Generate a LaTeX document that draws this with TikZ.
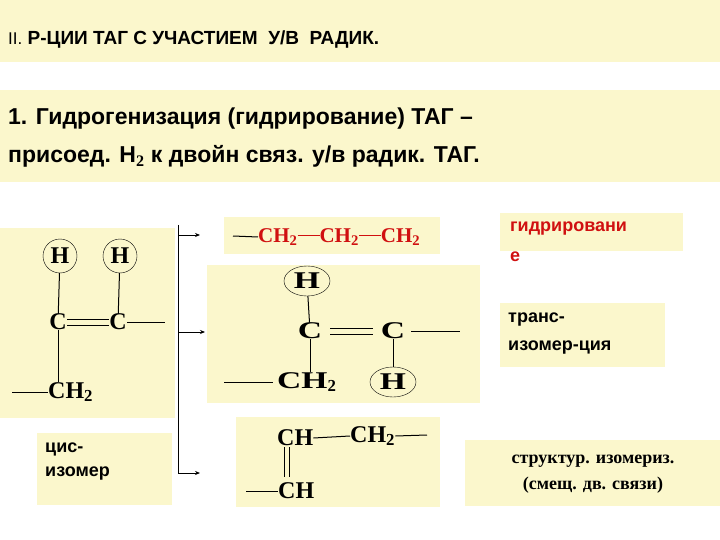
\documentclass[tikz,border=0pt]{standalone}
\usepackage{fontspec}
\usepackage{graphicx}
\setmainfont{Liberation Serif}
\setsansfont{Liberation Sans}
\usetikzlibrary{arrows.meta,shapes.geometric}
\definecolor{bg}{HTML}{FBF7CC}
\definecolor{rd}{HTML}{D01010}
\tikzset{
 box/.style={fill=bg,draw=none},
 sanst/.style={font=\sffamily\bfseries\fontsize{18}{24}\selectfont,inner sep=0pt},
 chem/.style={font=\bfseries\fontsize{24}{26}\selectfont,inner sep=0pt},
 chems/.style={font=\bfseries\fontsize{21}{24}\selectfont,inner sep=0pt},
 bond/.style={line width=1pt},
 arr/.style={-{Stealth[length=5pt,width=4pt]},line width=0.8pt}
}
\begin{document}
\begin{tikzpicture}[x=1pt,y=-1pt]
\useasboundingbox (0,0) rectangle (720,540);
\fill[white] (0,0) rectangle (720,540);
% title
\fill[box] (0,0) rectangle (720,62);
\node[anchor=west,inner sep=0pt,font=\sffamily\bfseries\fontsize{19}{22}\selectfont] (title) at (8,40) {{\mdseries\fontsize{17}{20}\selectfont II.} Р-ЦИИ ТАГ С УЧАСТИЕМ \ У/В \ РАДИК.};
\fill[box] (0,90) rectangle (720,182);
\node[anchor=west,inner sep=0pt,align=left,font=\sffamily\bfseries\fontsize{23}{38}\selectfont] (sub) at (8,138) {1. Гидрогенизация (гидрирование) ТАГ –\\присоед. Н$_{\mathbf 2}$ к двойн связ. у/в радик. ТАГ.};
% left box
\fill[box] (0,228) rectangle (175,418);
\node[chem,draw,circle,minimum size=34pt] (h1) at (60,256) {H};
\node[chem,draw,circle,minimum size=34pt] (h2) at (120,256) {H};
\node[chem] (c1) at (58,322) {C};
\node[chem] (c2) at (118,322) {C};
\node[chem,anchor=west] (ch2) at (48,392) {CH$_{\mathbf 2}$};
\coordinate (r1) at (165,322);
\coordinate (l1) at (12,392);
\draw[bond] (h1) -- (c1); \draw[bond] (h2) -- (c2);
\draw[bond] ([yshift=-3]c1.east) -- ([yshift=-3]c2.west);
\draw[bond] ([yshift=3]c1.east) -- ([yshift=3]c2.west);
\draw[bond] (c2.east) -- (r1);
\draw[bond] (c1) -- (c1|-ch2.north);
\draw[bond] (l1) -- (ch2.west);
% cis box
\fill[box] (37,433) rectangle (172,505);
\node[sanst,anchor=north west,align=left] (cis) at (45,443) {цис-\\изомер};
% bracket
\coordinate (b0) at (178,225); \coordinate (b1) at (178,473);
\draw[line width=0.8pt] (b0) -- (b1);
\draw[arr] (178,235) -- (200,235);
% red box
\fill[box] (224,217) rectangle (440,254);
\node[chems,text=rd,anchor=west] (red) at (258,237) {CH$_{\mathbf 2}$\rule[0.3em]{22pt}{1pt}CH$_{\mathbf 2}$\rule[0.3em]{22pt}{1pt}CH$_{\mathbf 2}$};
\coordinate (rl) at (233,236);
\draw[line width=1pt] (rl) -- (red.west);
% trans box
\fill[box] (207,265) rectangle (480,403);
\node[chem,draw,ellipse,minimum width=46pt,minimum height=30pt] (th) at (307,281) {\scalebox{1.4}[1]{H}};
\node[chem] (tc1) at (310,331) {\scalebox{1.4}[1]{C}};
\node[chem] (tc2) at (393,331) {\scalebox{1.4}[1]{C}};
\node[chem,anchor=west] (tch2) at (277,382) {\scalebox{1.4}[1]{CH}$_{\mathbf 2}$};
\node[chem,draw,ellipse,minimum width=46pt,minimum height=30pt] (th2) at (393,382) {\scalebox{1.4}[1]{H}};
\coordinate (tr) at (460,331); \coordinate (tl) at (224,382);
\draw[bond] (th) -- (tc1);
\draw[bond] ([yshift=-3,xshift=8]tc1.east) -- ([yshift=-3,xshift=-8]tc2.west);
\draw[bond] ([yshift=3,xshift=8]tc1.east) -- ([yshift=3,xshift=-8]tc2.west);
\draw[bond] ([xshift=6]tc2.east) -- (tr);
\draw[bond] (tc2) -- (th2);
\draw[bond] (tc1.south) -- (tc1.south|-tch2.north);
\draw[bond] (tl) -- ([xshift=-4]tch2.west);
\draw[arr] (178,332) -- (205,332);
% bottom box
\fill[box] (236,417) rectangle (440,507);
\node[chem,anchor=west] (bch) at (277,438) {CH};
\node[chem,anchor=west] (bch2) at (350,436) {CH$_{\mathbf 2}$};
\node[chem,anchor=west] (bch3) at (278,491) {CH};
\coordinate (br) at (427,435); \coordinate (bl) at (246,491);
\draw[bond] (bch.east) -- (bch2.west);
\draw[bond] (bch2.east) -- (br);
\draw[bond] (bl) -- (bch3.west);
\draw[bond] (284,447) -- (284,477); \draw[bond] (289,447) -- (289,477);
\draw[arr] (b1) -- (200,473);
% right boxes
\fill[box] (500,213) rectangle (683,251);
\node[sanst,text=rd,anchor=north west,align=left,font=\sffamily\bfseries\fontsize{18}{30}\selectfont] (t1) at (510,222) {гидрировани\\е};
\fill[box] (500,303) rectangle (665,367);
\node[sanst,anchor=north west,align=left,font=\sffamily\bfseries\fontsize{18}{28}\selectfont] (t2) at (508,313) {транс-\\изомер-ция};
\fill[box] (465,440) rectangle (720,506);
\node[inner sep=0pt,align=center,font=\bfseries\fontsize{18}{26}\selectfont] (t3) at (593,474) {структур. изомериз.\\(смещ. дв. связи)};
\end{tikzpicture}
\end{document}
